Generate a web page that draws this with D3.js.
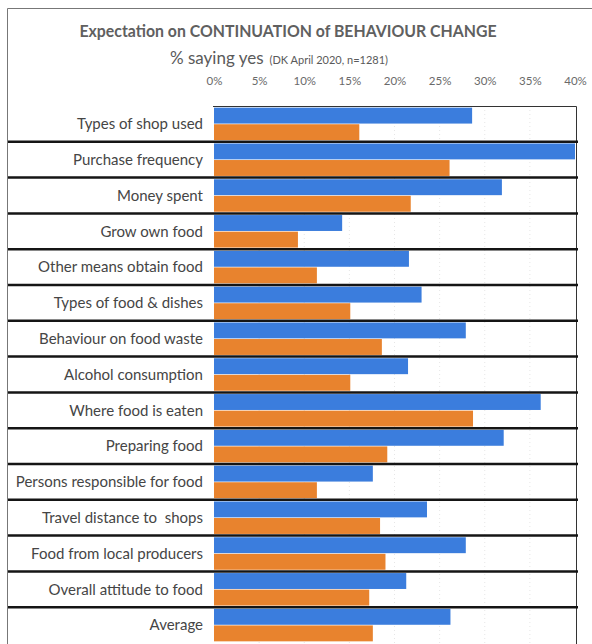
<!DOCTYPE html>
<html>
<head>
	<meta charset="utf-8">
	<title>Continuation of behaviour change</title>
	<script src="https://d3js.org/d3.v7.min.js"></script>
	<style>
		body { margin: 0; background: #fff; }
		text { font-family: Lato, "Open Sans", sans-serif; white-space: pre; }
	</style>
</head>
<body>

	<script type="text/javascript">

		// Data (% saying yes)
		var categories = ['Types of shop used', 'Purchase frequency', 'Money spent', 'Grow own food',
			'Other means obtain food', 'Types of food & dishes', 'Behaviour on food waste',
			'Alcohol consumption', 'Where food is eaten', 'Preparing food',
			'Persons responsible for food', 'Travel distance to  shops', 'Food from local producers',
			'Overall attitude to food', 'Average'];
		var seriesBlue = [28.6, 40.0, 31.9, 14.2, 21.6, 23.0, 27.9, 21.5, 36.2, 32.1, 17.6, 23.6, 27.9, 21.3, 26.2];
		var seriesOrange = [16.1, 26.1, 21.8, 9.3, 11.4, 15.1, 18.6, 15.1, 28.7, 19.2, 11.4, 18.4, 19.0, 17.2, 17.6];
		var tickValues = [0, 5, 10, 15, 20, 25, 30, 35, 40];

		var outerWidth = 592, outerHeight = 644;
		var plot = {left: 214, right: 576, top: 106, bottom: 643};

		var svg = d3.select('body')
					.append('svg')
					.attr('width', outerWidth)
					.attr('height', outerHeight);

		// Outer frame (top and left edges show in the scan)
		svg.append('path')
		   .attr('d', 'M7.5,' + outerHeight + 'V8.5H' + outerWidth)
		   .attr('fill', 'none')
		   .attr('stroke', '#777')
		   .attr('stroke-width', 1);

		// Scales
		var x = d3.scaleLinear().domain([0, 40]).range([plot.left, 575]);
		var y = d3.scaleBand().domain(categories).range([plot.top, plot.bottom]);
		var inner = d3.scaleBand().domain(['blue', 'orange'])
					  .range([0, y.bandwidth()])
					  .paddingInner(0.04)
					  .paddingOuter(0.1);

		// Title
		svg.append('text')
		   .attr('x', 288)
		   .attr('y', 37)
		   .attr('text-anchor', 'middle')
		   .attr('font-size', 17)
		   .attr('font-weight', 'bold')
		   .attr('fill', '#606060')
		   .attr('textLength', 417)
		   .attr('lengthAdjust', 'spacingAndGlyphs')
		   .text('Expectation on CONTINUATION of BEHAVIOUR CHANGE');

		// Subtitle
		var sub = svg.append('text')
					 .attr('x', 170)
					 .attr('y', 64)
					 .attr('fill', '#5a5a5a');
		sub.append('tspan').attr('font-size', 17).text('% saying yes');
		sub.append('tspan').attr('font-size', 11).attr('dx', 6).text('(DK April 2020, n=1281)');

		// Faint grid lines
		svg.append('g')
		   .selectAll('line')
		   .data(tickValues.slice(1, -1))
		   .enter()
		   .append('line')
		   .attr('x1', function(d) { return x(d); })
		   .attr('x2', function(d) { return x(d); })
		   .attr('y1', plot.top)
		   .attr('y2', plot.bottom)
		   .attr('stroke', '#e6e6e6')
		   .attr('stroke-dasharray', '1,3');

		// Top axis
		var axis = svg.append('g')
					  .attr('transform', 'translate(0,85)')
					  .call(d3.axisTop(x).tickValues(tickValues)
							  .tickFormat(function(d) { return d + '%'; })
							  .tickSize(0).tickPadding(0));
		axis.select('.domain').remove();
		axis.selectAll('text')
			.attr('font-family', 'Lato, sans-serif')
			.attr('font-size', 11.5)
			.attr('fill', '#6a6a6a');

		// Bars
		var rows = svg.append('g')
					  .selectAll('g')
					  .data(categories)
					  .enter()
					  .append('g')
					  .attr('transform', function(d) { return 'translate(0,' + y(d) + ')'; });

		rows.append('rect')
			.attr('x', x(0))
			.attr('y', inner('blue'))
			.attr('height', inner.bandwidth())
			.attr('width', function(d, i) { return x(seriesBlue[i]) - x(0); })
			.attr('fill', '#3b7ddd');

		rows.append('rect')
			.attr('x', x(0))
			.attr('y', inner('orange'))
			.attr('height', inner.bandwidth())
			.attr('width', function(d, i) { return x(seriesOrange[i]) - x(0); })
			.attr('fill', '#e8832e');

		// Category labels
		rows.append('text')
			.attr('x', 203)
			.attr('y', y.bandwidth() / 2)
			.attr('dy', '0.35em')
			.attr('text-anchor', 'end')
			.attr('font-size', 15)
			.attr('fill', '#454545')
			.text(function(d) { return d; });

		// Plot border (top + right)
		svg.append('path')
		   .attr('d', 'M' + (plot.left - 1) + ',' + (plot.top + 0.5) + 'H' + (plot.right + 0.5) + 'V' + outerHeight)
		   .attr('fill', 'none')
		   .attr('stroke', '#333')
		   .attr('stroke-width', 1);

		// Thick row separators
		svg.append('g')
		   .selectAll('line')
		   .data(categories.slice(1))
		   .enter()
		   .append('line')
		   .attr('x1', 8)
		   .attr('x2', 578)
		   .attr('y1', function(d) { return y(d); })
		   .attr('y2', function(d) { return y(d); })
		   .attr('stroke', '#151515')
		   .attr('stroke-width', 2.5);

	</script>
</body>
</html>
